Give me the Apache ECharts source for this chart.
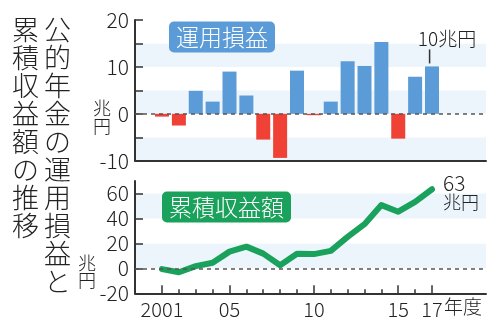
<!DOCTYPE html>
<html><head><meta charset="utf-8">
<script src="https://cdn.jsdelivr.net/npm/echarts@6/dist/echarts.min.js"></script>
<style>html,body{margin:0;padding:0;background:#fff}#c{width:500px;height:333px}</style>
</head><body><div id="c"></div>
<script>
// Fiscal years
const years = [2001,2002,2003,2004,2005,2006,2007,2008,2009,2010,2011,2012,2013,2014,2015,2016,2017];
// Annual investment gain/loss (trillion yen)
const annualGain = [-0.6,-2.5,4.9,2.6,9.0,3.9,-5.5,-9.4,9.2,-0.3,2.6,11.2,10.2,15.3,-5.3,7.9,10.1];
// Cumulative gain (trillion yen)
const cumulativeGain = [-0.6,-3.1,1.8,4.5,13.4,17.4,11.8,2.5,11.7,11.4,14.0,25.2,35.4,50.7,45.4,53.3,63.4];
// X tick labels
const labeledYears = [2001,2005,2010,2015,2017];
const xTickLabels = ['2001','05','10','15','17'];
// Y tick values
const topYTicks = [-10,0,10,20];
const bottomYTicks = [-20,0,20,40,60];

const FONT = "'Noto Sans CJK JP','Noto Sans',sans-serif";
const BLUE = '#5b9bd8', RED = '#ef4136', GREEN = '#1aa15b', BAND = '#edf5fc', INK = '#222';
const W = 300;

const chart = echarts.init(document.getElementById('c'), null, {renderer:'canvas'});

const lastIdx = years.length - 1;
const xBase = {type:'value', min:1999.4, max:2020.2, splitLine:{show:false}};
const ts = (size, lh, color) => ({fontSize:size, lineHeight:lh, fontWeight:W, color:color||INK, fontFamily:FONT});

chart.setOption({
  animation:false,
  textStyle:{fontFamily:FONT, fontWeight:W},
  title:[
    {text:'公\n的\n年\n金\nの\n運\n用\n損\n益\nと', left:44, top:16, padding:0, textStyle:ts(27,28)},
    {text:'累\n積\n収\n益\n額\nの\n推\n移', left:12, top:16, padding:0, textStyle:ts(27,28)},
    {text:'運用損益', left:169, top:22, padding:[4,7], backgroundColor:BLUE, borderRadius:5, textStyle:ts(23,22,'#fff')},
    {text:'累積収益額', left:162, top:192, padding:[4,7], backgroundColor:GREEN, borderRadius:5, textStyle:ts(23,22,'#fff')},
    {text:'兆\n円', left:93, top:99, padding:0, textStyle:ts(18,18)},
    {text:'兆\n円', left:78, top:255, padding:0, textStyle:ts(18,17)},
    {text:'年度', left:444, top:297, padding:0, textStyle:ts(19,20)}
  ],
  grid:[
    {left:135, right:14, top:20, height:140.7},
    {left:135, right:14, top:181, height:112.3}
  ],
  xAxis:[
    Object.assign({}, xBase, {gridIndex:0, position:'bottom',
      axisLine:{onZero:false, lineStyle:{color:'#333', width:2}},
      axisTick:{show:false}, axisLabel:{show:false}}),
    Object.assign({}, xBase, {gridIndex:1, position:'bottom',
      axisLine:{onZero:false, lineStyle:{color:'#333', width:2}},
      axisTick:{show:true, inside:true, length:8, customValues:labeledYears, lineStyle:{color:'#333', width:1.5}},
      axisLabel:{show:true, customValues:labeledYears, margin:6, fontSize:20, fontWeight:W, color:INK, fontFamily:FONT,
        hideOverlap:false, showMaxLabel:true, showMinLabel:true,
        formatter:function(v){
          const i = labeledYears.indexOf(Math.round(v));
          return i < 0 ? '' : xTickLabels[i];
        }}}),
    Object.assign({}, xBase, {gridIndex:1, position:'bottom',
      axisLine:{show:false, onZero:false},
      axisTick:{show:true, inside:true, length:4, customValues:years, lineStyle:{color:'#333', width:1.5}},
      axisLabel:{show:false}})
  ],
  yAxis:[
    {type:'value', gridIndex:0, min:-10, max:20, interval:5,
     axisLine:{show:true, lineStyle:{color:'#333', width:2}},
     axisTick:{show:true, inside:true, length:8, lineStyle:{color:'#333', width:1.5}},
     axisLabel:{margin:6, fontSize:21, fontWeight:W, color:INK, fontFamily:FONT,
       formatter:function(v){ return topYTicks.indexOf(v) >= 0 ? String(v) : ''; }},
     splitLine:{show:false},
     splitArea:{show:true, areaStyle:{color:[BAND,'#ffffff']}}},
    {type:'value', gridIndex:1, min:-20, max:70, interval:20,
     axisLine:{show:true, lineStyle:{color:'#333', width:2}},
     axisTick:{show:true, inside:true, length:8, customValues:bottomYTicks, lineStyle:{color:'#333', width:1.5}},
     axisLabel:{margin:6, fontSize:21, fontWeight:W, color:INK, fontFamily:FONT, customValues:bottomYTicks},
     splitLine:{show:false},
     splitArea:{show:true, areaStyle:{color:['#ffffff',BAND]}}}
  ],
  series:[
    {type:'bar', xAxisIndex:0, yAxisIndex:0, barWidth:14,
     data: years.map((y,i)=>[y, annualGain[i]]),
     itemStyle:{color:function(p){ return p.value[1] < 0 ? RED : BLUE; }},
     label:{show:true, position:'top', distance:3, offset:[15,0],
       formatter:function(p){
         if (p.dataIndex !== lastIdx) return '';
         return '{t|' + Math.round(p.value[1]) + '兆円}\n{s|}{l|}';
       },
       rich:{
         t:{fontSize:19, lineHeight:21, fontWeight:W, color:INK, fontFamily:FONT, align:'left'},
         s:{width:11, height:14, align:'left'},
         l:{width:1.5, height:14, backgroundColor:'#333', align:'left'}
       }},
     markLine:{silent:true, symbol:['none','none'], label:{show:false},
       lineStyle:{type:[4,4], color:'#555', width:1.5}, data:[{yAxis:0}]}},
    {type:'line', xAxisIndex:2, yAxisIndex:1, data:[], z:1,
     markLine:{silent:true, symbol:['none','none'], label:{show:false},
       lineStyle:{type:[4,4], color:'#555', width:1.5}, data:[{yAxis:0}]}},
    {type:'line', xAxisIndex:1, yAxisIndex:1, z:3,
     data: years.map((y,i)=>[y, cumulativeGain[i]]),
     showSymbol:false, symbol:'none',
     lineStyle:{color:GREEN, width:6, cap:'round', join:'round'},
     endLabel:{show:true, distance:8, offset:[3,3],
       formatter:function(p){ return '{n|' + Math.round(p.value[1]) + '}\n{u|兆円}'; },
       rich:{
         n:{fontSize:21, lineHeight:20, fontWeight:W, color:INK, fontFamily:FONT},
         u:{fontSize:18, lineHeight:19, fontWeight:W, color:INK, fontFamily:FONT}
       }}}
  ]
});
</script></body></html>
